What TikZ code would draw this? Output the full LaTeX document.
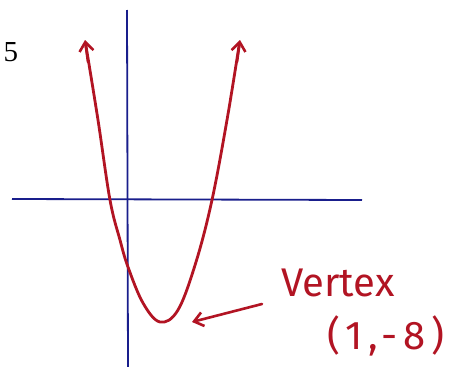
\documentclass[tikz,border=0pt]{standalone}
\usepackage{fontspec}
\newfontfamily\handfont{Fira Sans}
\newfontfamily\numfont{Liberation Serif}
\usetikzlibrary{arrows.meta}
\definecolor{pen}{RGB}{178,20,35}
\definecolor{axisblue}{RGB}{25,30,140}
\begin{document}
\begin{tikzpicture}[x=1pt,y=-1pt,
  axisline/.style={draw=axisblue,line width=1.8pt},
  curveline/.style={draw=pen,line width=2.8pt,line cap=round,line join=round},
  penarrow/.style={draw=pen,line width=2.6pt,line cap=round,-{Straight Barb[length=9pt,width=14pt,line width=2.6pt]}},
  handtext/.style={text=pen,font=\handfont\fontsize{40}{40}\selectfont,inner sep=0pt}]
\useasboundingbox (0,0) rectangle (459,367);
\fill[white] (0,0) rectangle (459,367);
% axes
\coordinate (ytop) at (127,10);
\coordinate (ybot) at (128,367);
\coordinate (xl) at (12,199);
\coordinate (xr) at (362,200);
\draw[axisline] (ytop) -- (ybot);
\draw[axisline] (xl) -- (xr);
% label
\node[font=\numfont\fontsize{29}{29}\selectfont,inner sep=0pt] (five) at (11,52) {5};
% parabola
\coordinate (ltip) at (85,40);
\coordinate (rtip) at (240,40);
\draw[curveline] plot[smooth,tension=0.6] coordinates {(86,46) (98,120) (110,200) (120,240) (128,267) (143,303) (160,322) (178,310) (196,262) (212,200) (227,120) (239,46)};
\draw[penarrow] (88,62) -- (ltip);
\draw[penarrow] (237,62) -- (rtip);
% vertex label
\node[handtext] (vtx) at (338,283) {Vertex};
\node[handtext] (coord) at (386,336) {\addfontfeature{LetterSpace=14}(1,-8)};
\coordinate (astart) at (262,304);
\coordinate (vertex) at (192,322);
\draw[penarrow] (astart) -- (vertex);
\end{tikzpicture}
\end{document}
